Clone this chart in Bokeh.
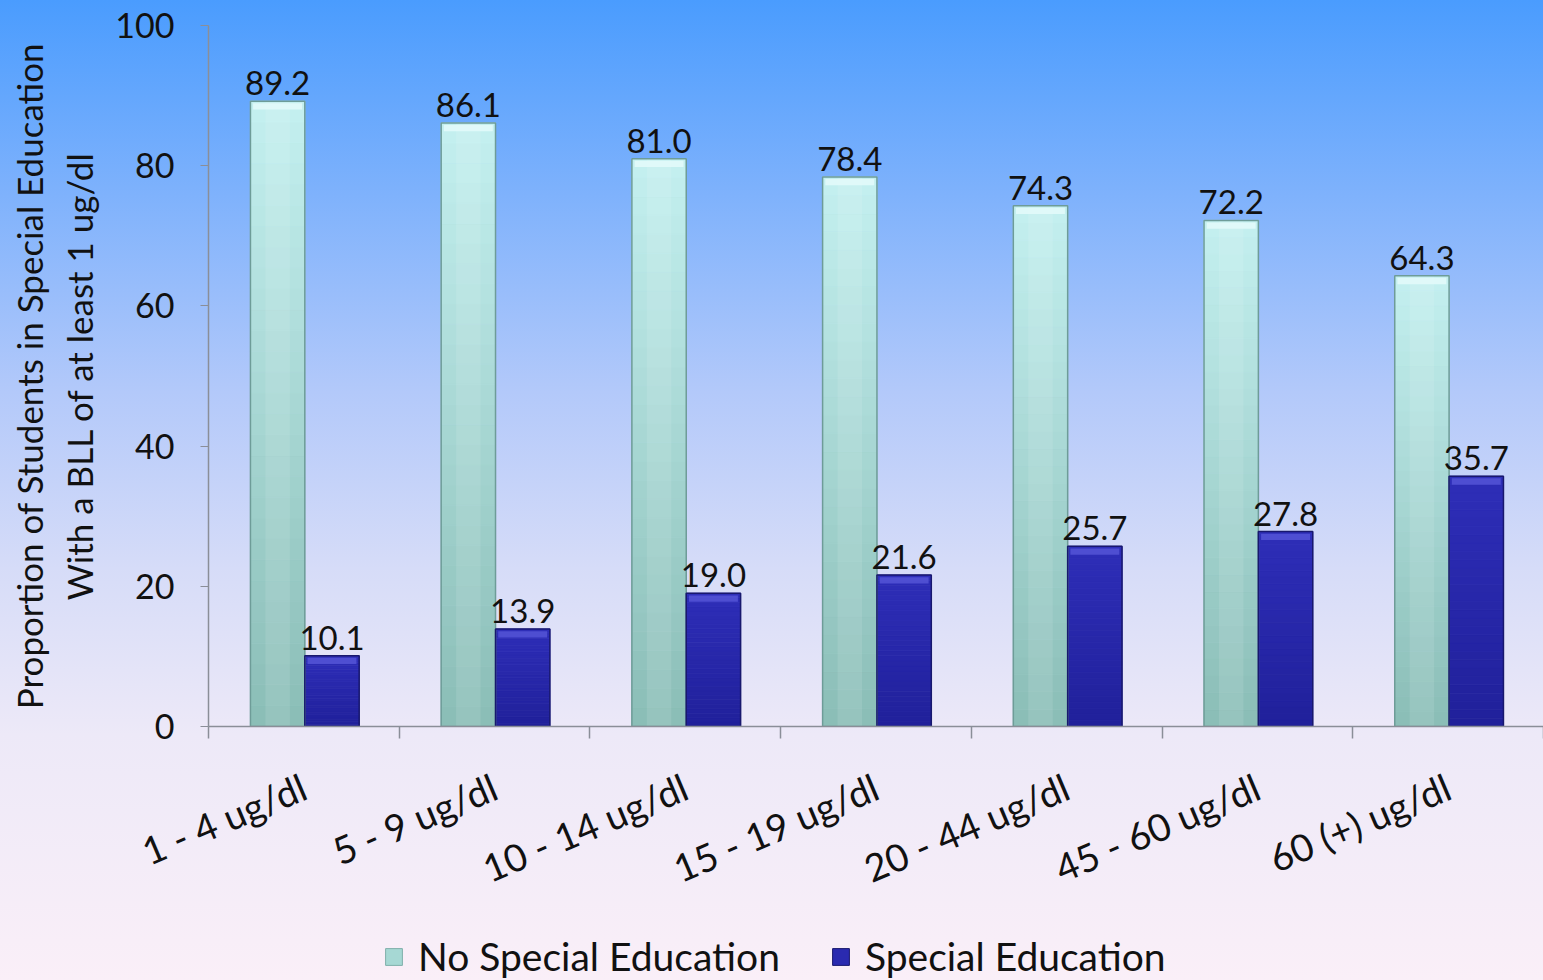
from bokeh.plotting import figure
from bokeh.layouts import column
from bokeh.models import FixedTicker, Legend, LegendItem, Range1d
from bokeh.core.properties import value
from bokeh.embed import file_html
from bokeh.resources import INLINE
import numpy as np

categories = ["1 - 4 ug/dl", "5 - 9 ug/dl", "10 - 14 ug/dl", "15 - 19 ug/dl",
              "20 - 44 ug/dl", "45 - 60 ug/dl", "60 (+) ug/dl"]
no_special = [89.2, 86.1, 81.0, 78.4, 74.3, 72.2, 64.3]
special = [10.1, 13.9, 19.0, 21.6, 25.7, 27.8, 35.7]
series_names = ["No Special Education", "Special Education"]
y_ticks = [0, 20, 40, 60, 80, 100]

FONT = "Lato"
LIGHT_BOT, LIGHT_TOP = "#8ABDB6", "#C4F0F0"
DARK_BOT, DARK_TOP = "#20209A", "#2E2EB8"

p = figure(frame_width=1335, frame_height=701, output_backend="svg", toolbar_location=None,
           x_range=Range1d(0, 7), y_range=Range1d(0, 100),
           min_border_left=208, min_border_right=0, min_border_top=25,
           min_border_bottom=205)
p.background_fill_alpha = 0
p.border_fill_alpha = 0
p.outline_line_color = None
p.xgrid.visible = False
p.ygrid.visible = False

n = len(categories)
centers = np.arange(n) + 0.505
bw = 0.285
x_light = centers - bw / 2
x_dark = centers + bw / 2
vals_l = np.array(no_special)
vals_d = np.array(special)

def mix(c1, c2, t):
    a = [int(c1[i:i + 2], 16) for i in (1, 3, 5)]
    b = [int(c2[i:i + 2], 16) for i in (1, 3, 5)]
    return "#%02x%02x%02x" % tuple(round(a[i] + (b[i] - a[i]) * t) for i in range(3))

N = 30
for k in range(N):
    f0, f1 = k / N, (k + 1) / N
    t = (k + 0.5) / N
    cl = mix(LIGHT_BOT, LIGHT_TOP, t)
    cd = mix(DARK_BOT, DARK_TOP, t)
    p.vbar(x=x_light, width=bw, bottom=vals_l * f0, top=vals_l * f1,
           fill_color=cl, line_color=cl, line_width=0.8)
    p.vbar(x=x_dark, width=bw, bottom=vals_d * f0, top=vals_d * f1,
           fill_color=cd, line_color=cd, line_width=0.8)
# soft vertical highlight in the middle of the light bars
p.vbar(x=x_light, width=bw * 0.45, top=vals_l, bottom=0,
       fill_color="#FFFFFF", fill_alpha=0.10, line_color=None)
# outlines
p.vbar(x=x_light, width=bw, top=vals_l, bottom=0, fill_color=None,
       line_color="#6E9C98", line_width=1.5)
p.vbar(x=x_dark, width=bw, top=vals_d, bottom=0, fill_color=None,
       line_color="#18186E", line_width=1.5)
# light cap at top
p.vbar(x=x_light, width=bw * 0.9, top=vals_l - 0.3, bottom=vals_l - 1.2,
       fill_color="#E6FBFB", line_color=None, fill_alpha=0.8)
p.vbar(x=x_dark, width=bw * 0.9, top=vals_d - 0.3, bottom=vals_d - 1.2,
       fill_color="#5656D8", line_color=None, fill_alpha=0.8)

p.text(x=x_light, y=vals_l, text=["%.1f" % v for v in no_special],
       text_align="center", text_baseline="bottom", y_offset=-6,
       text_font=value(FONT), text_font_size="33px", text_color="#111111")
p.text(x=x_dark, y=vals_d, text=["%.1f" % v for v in special],
       text_align="center", text_baseline="bottom", y_offset=-6,
       text_font=value(FONT), text_font_size="33px", text_color="#111111")

# y axis
ya = p.yaxis[0]
ya.ticker = FixedTicker(ticks=y_ticks, minor_ticks=[])
ya.axis_line_color = "#8A8E98"
ya.axis_line_width = 1.5
ya.major_tick_line_color = "#8A8E98"
ya.major_tick_out = 8
ya.major_tick_in = 0
ya.minor_tick_line_color = None
ya.major_label_text_font = FONT
ya.major_label_text_font_size = "34px"
ya.major_label_text_color = "#111111"
ya.major_label_standoff = 26
ya.axis_label = "Proportion of Students in Special Education\nWith a BLL of at least 1 ug/dl"
ya.axis_label_text_font = FONT
ya.axis_label_text_font_size = "35px"
ya.axis_label_text_font_style = "normal"
ya.axis_label_text_color = "#111111"
ya.axis_label_standoff = 12

# x axis
xa = p.xaxis[0]
xa.ticker = FixedTicker(ticks=list(np.arange(n) + 0.5), minor_ticks=list(range(n + 1)))
xa.major_label_overrides = {float(i + 0.5): c for i, c in enumerate(categories)}
xa.axis_line_color = "#8A8E98"
xa.axis_line_width = 1.5
xa.major_tick_line_color = None
xa.minor_tick_line_color = "#8A8E98"
xa.minor_tick_line_width = 1.5
xa.minor_tick_out = 12
xa.minor_tick_in = 0
xa.major_label_orientation = 0.40
xa.major_label_text_font = FONT
xa.major_label_text_font_size = "38px"
xa.major_label_text_color = "#111111"
xa.major_label_standoff = 46

# legend strip (its bars lie outside its visible y range; only the legend shows)
p2 = figure(width=1543, height=49, output_backend="svg", toolbar_location=None,
            x_range=Range1d(0, 7), y_range=Range1d(1000, 1001), min_border=0)
p2.axis.visible = False
p2.xgrid.visible = False
p2.ygrid.visible = False
p2.outline_line_color = None
p2.background_fill_alpha = 0
p2.border_fill_alpha = 0
r_light = p2.vbar(x=x_light, top=vals_l, width=bw, fill_color="#A6D8D4", line_color="#7FAFAA")
r_dark = p2.vbar(x=x_dark, top=vals_d, width=bw, fill_color="#2A2AB0", line_color="#18186E")
legend = Legend(items=[LegendItem(label=series_names[0], renderers=[r_light], index=0),
                       LegendItem(label=series_names[1], renderers=[r_dark], index=0)],
                orientation="horizontal", location=(175, 1),
                background_fill_alpha=0, border_line_color=None,
                label_text_font=FONT, label_text_font_size="39px",
                label_text_color="#111111", glyph_width=21, glyph_height=21,
                spacing=50, padding=0, margin=0, label_standoff=14)
p2.add_layout(legend, "center")

layout = column(p, p2, spacing=0)
layout.styles = {"background": "linear-gradient(to bottom, #4A9CFE 0%, #7FB2FC 20%, #B3C9FA 40%, #D6DCF8 58%, #EDE9F8 75%, #FAEFF8 100%)"}

open("out.html", "w").write(file_html(layout, INLINE))
